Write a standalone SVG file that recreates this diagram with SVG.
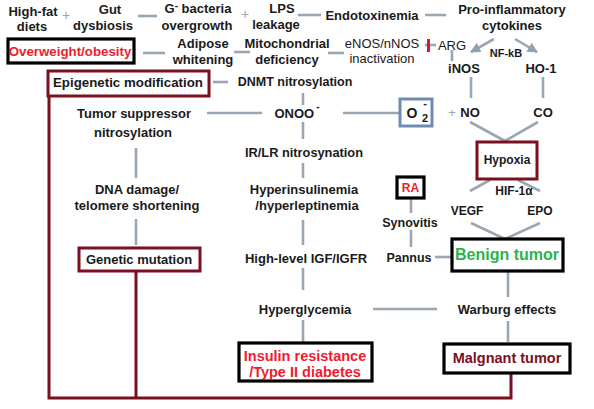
<svg xmlns="http://www.w3.org/2000/svg" width="594" height="409" viewBox="0 0 594 409">
<defs>
<style>
text{font-family:"Liberation Sans",Arial,sans-serif;font-weight:bold;font-size:13px;fill:#1a1a1a;text-anchor:middle}
.n{font-weight:normal}
.red{fill:#ee1c2e}
.line{stroke:#9aa6b1;stroke-width:2.6;fill:none}
.frame{stroke:#7a0f1f;stroke-width:3;fill:none}
.bk{stroke:#000;stroke-width:3.2;fill:#fff}
.dr{stroke:#7a0f1f;stroke-width:3;fill:#fff}
</style>
<marker id="ah" viewBox="0 0 10 10" refX="9" refY="5" markerWidth="4" markerHeight="4" orient="auto" markerUnits="strokeWidth">
<path d="M0,0 L10,5 L0,10 Z" fill="#8fa1b3"/>
</marker>
</defs>
<rect width="594" height="409" fill="#fff"/>

<g id="connectors">
<text x="66" y="20" style="fill:#9aa6b1;font-weight:normal;font-size:14px">+</text>
<text x="245" y="19" style="fill:#9aa6b1;font-weight:normal;font-size:14px">+</text>
<line class="line" x1="138" y1="16" x2="157" y2="16"/>
<line class="line" x1="298" y1="15" x2="321" y2="15"/>
<line class="line" x1="425" y1="15" x2="446" y2="15"/>
<line class="line" x1="143" y1="53" x2="165" y2="53"/>
<line class="line" x1="234" y1="52" x2="250" y2="52"/>
<line class="line" x1="328" y1="53" x2="344" y2="53"/>
<line class="line" x1="425" y1="45" x2="436" y2="45"/>
<line x1="428.5" y1="39" x2="428.5" y2="52" stroke="#e8102a" stroke-width="3"/>
<line class="line" x1="452" y1="50" x2="452" y2="61"/>
<line class="line" x1="494" y1="39" x2="471" y2="52" marker-end="url(#ah)" stroke="#8fa1b3"/>
<line class="line" x1="515" y1="39" x2="537" y2="52" marker-end="url(#ah)" stroke="#8fa1b3"/>
<line class="line" x1="471" y1="77" x2="471" y2="98"/>
<line class="line" x1="543" y1="77" x2="543" y2="98"/>
<line class="line" x1="470" y1="122" x2="505" y2="141"/>
<line class="line" x1="538" y1="122" x2="505" y2="141"/>
<line class="line" x1="490" y1="180" x2="470" y2="191"/>
<line class="line" x1="518" y1="180" x2="540" y2="191"/>
<line class="line" x1="471" y1="223" x2="505" y2="239"/>
<line class="line" x1="540" y1="223" x2="505" y2="239"/>
<line class="line" x1="213" y1="82" x2="228" y2="82"/>
<line class="line" x1="303" y1="93" x2="303" y2="105"/>
<line class="line" x1="207" y1="113" x2="262" y2="113"/>
<line class="line" x1="343" y1="113" x2="399" y2="113"/>
<line class="line" x1="303" y1="122" x2="303" y2="139"/>
<line class="line" x1="303" y1="163" x2="303" y2="178"/>
<line class="line" x1="303" y1="220" x2="303" y2="245"/>
<line class="line" x1="303" y1="268" x2="303" y2="290"/>
<line class="line" x1="303" y1="320" x2="303" y2="342"/>
<line class="line" x1="136" y1="148" x2="136" y2="178"/>
<line class="line" x1="136" y1="219" x2="136" y2="245"/>
<line class="line" x1="373" y1="309" x2="437" y2="309"/>
<line class="line" x1="411" y1="198" x2="411" y2="213"/>
<line class="line" x1="411" y1="230" x2="411" y2="247"/>
<line class="line" x1="435" y1="257" x2="451" y2="257"/>
<line class="line" x1="508" y1="272" x2="508" y2="297"/>
<line class="line" x1="508" y1="321" x2="508" y2="342"/>
<polyline class="frame" points="49,97 49,398 511,398 511,374"/>
<line class="frame" x1="136" y1="271" x2="136" y2="398"/>
</g>

<g id="high-fat"><text x="33" y="16">High-fat</text><text x="32" y="31">diets</text></g>
<g id="gut"><text x="110" y="14">Gut</text><text x="103" y="30">dysbiosis</text></g>
<g id="gbacteria"><text x="198" y="13">G<tspan dy="-4" font-size="10">-</tspan><tspan dy="4"> bacteria</tspan></text><text x="197" y="30">overgrowth</text></g>
<g id="lps"><text x="282" y="13">LPS</text><text x="276" y="29">leakage</text></g>
<g id="endotoxinemia"><text x="372" y="20">Endotoxinemia</text></g>
<g id="cytokines"><text x="512" y="14">Pro-inflammatory</text><text x="512" y="30">cytokines</text></g>

<g id="obesity"><rect class="bk" x="8" y="39" width="126" height="24"/><text class="red" x="70" y="56" style="font-size:13.3px">Overweight/obesity</text></g>
<g id="adipose"><text x="203" y="48">Adipose</text><text x="203" y="64">whitening</text></g>
<g id="mito"><text x="287" y="48">Mitochondrial</text><text x="287" y="64">deficiency</text></g>
<g id="enos"><text class="n" x="382" y="48">eNOS/nNOS</text><text class="n" x="382" y="63">inactivation</text></g>
<g id="arg"><text class="n" x="452" y="50">ARG</text></g>
<g id="nfkb"><text x="506" y="57" style="font-size:11px">NF-kB</text></g>
<g id="inos"><text x="464" y="73">iNOS</text></g>
<g id="ho1"><text x="541" y="73">HO-1</text></g>

<g id="epigenetic"><rect class="dr" x="48" y="71" width="161" height="25"/><text x="128" y="87" style="font-size:13.3px">Epigenetic modification</text></g>
<g id="dnmt"><text x="295" y="86" style="font-size:12.5px">DNMT nitrosylation</text></g>

<g id="no"><text x="452" y="117" style="fill:#9aa6b1;font-weight:normal;font-size:13px">+</text><text x="470" y="117">NO</text></g>
<g id="co"><text x="543" y="117">CO</text></g>
<g id="onoo"><text x="297" y="118">ONOO<tspan dx="2" dy="-8" font-size="10">-</tspan></text></g>
<g id="o2"><rect x="400" y="99" width="32" height="27" fill="#fff" stroke="#6f8cb0" stroke-width="3"/><text x="412" y="118" style="font-size:14px">O</text><text x="425" y="122" style="font-size:11px">2</text><text x="425" y="107" style="font-size:11px">-</text></g>

<g id="tumor-suppressor"><text x="134" y="118">Tumor suppressor</text><text x="133" y="137">nitrosylation</text></g>
<g id="irlr"><text x="304" y="157" style="font-size:12.8px">IR/LR nitrosynation</text></g>
<g id="hypoxia"><rect class="dr" x="477" y="142" width="60" height="37"/><text x="507" y="164" style="font-size:12px">Hypoxia</text></g>

<g id="dna"><text x="137" y="194">DNA damage/</text><text x="137" y="210">telomere shortening</text></g>
<g id="hyperinsulinemia"><text x="304" y="194">Hyperinsulinemia</text><text x="307" y="210">/hyperleptinemia</text></g>
<g id="ra"><rect class="bk" x="397" y="177" width="27" height="21"/><text class="red" x="410.5" y="192" style="font-size:12px">RA</text></g>
<g id="hif"><text x="514" y="195" style="font-size:12px">HIF-1α</text></g>
<g id="vegf"><text x="467" y="215" style="font-size:12px">VEGF</text></g>
<g id="epo"><text x="540" y="215" style="font-size:12px">EPO</text></g>
<g id="synovitis"><text x="410" y="227" style="font-size:12.5px">Synovitis</text></g>

<g id="genetic"><rect class="dr" x="79" y="248" width="121" height="23"/><text x="139" y="264">Genetic mutation</text></g>
<g id="igf"><text x="306" y="263">High-level IGF/IGFR</text></g>
<g id="pannus"><text x="409" y="262" style="font-size:12.5px">Pannus</text></g>
<g id="benign"><rect class="bk" x="452" y="239" width="111" height="32"/><text x="507" y="260" style="font-size:16px;fill:#2db34a">Benign tumor</text></g>

<g id="hyperglycemia"><text x="305" y="314">Hyperglycemia</text></g>
<g id="warburg"><text x="507" y="314">Warburg effects</text></g>

<g id="insulin"><rect class="bk" x="239" y="343" width="133" height="38"/><text class="red" x="305" y="361" style="font-size:14.5px">Insulin resistance</text><text class="red" x="305" y="377" style="font-size:14.5px">/Type II diabetes</text></g>
<g id="malignant"><rect class="bk" x="444" y="344" width="126" height="29"/><text x="507" y="363" style="font-size:14.5px;fill:#7a0f22">Malgnant tumor</text></g>
</svg>
